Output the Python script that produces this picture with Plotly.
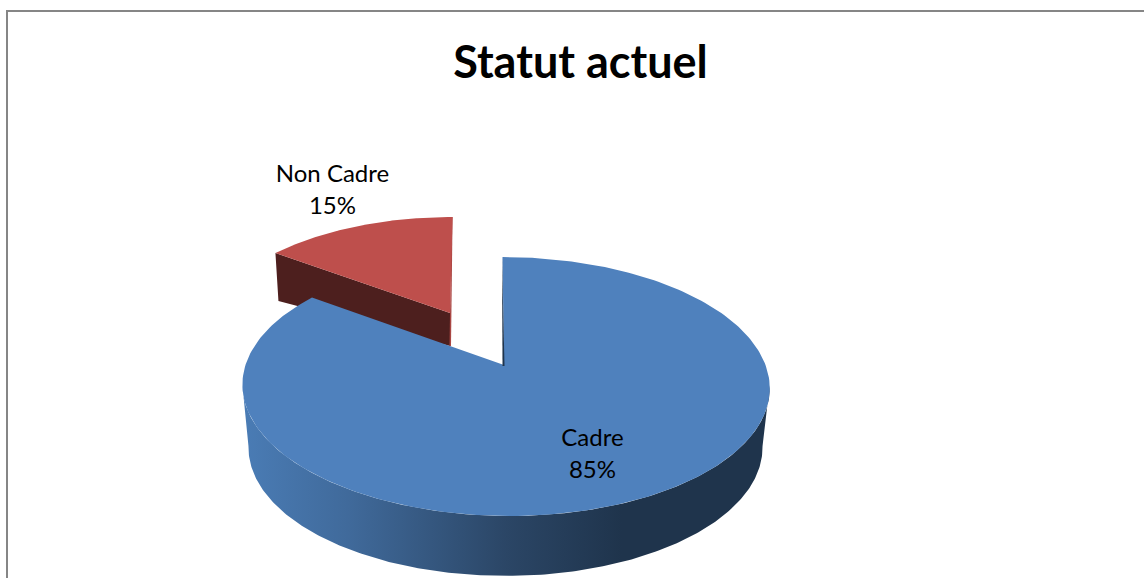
import math
import plotly.graph_objects as go

categories = ["Cadre", "Non Cadre"]
values = [85, 15]
title_text = "Statut actuel"

total = sum(values)
blue_sweep = 2 * math.pi * values[0] / total
N = 240


def project(theta, apex, a, b, k=0.166, s=0.0, cx=None):
    """Clockwise pie angle from 12 o'clock -> perspective-projected chart position."""
    u, v = math.sin(theta), math.cos(theta)
    w = 1 + k * v
    x0 = apex[0] if cx is None else cx
    return x0 + (b * u + s * v) / w, apex[1] - a * v / w


def arc(t0, t1, **kw):
    pts = [project(t0 + (t1 - t0) * i / N, **kw) for i in range(N + 1)]
    return [p[0] for p in pts], [p[1] for p in pts]


BLUE = dict(apex=(504, 365), a=125.9, b=260, s=-3.5, cx=505.5)
BLUE_LOW = dict(apex=(505.5, 426), a=125, b=253.5, s=0)
RED = dict(apex=(450, 313), a=112, b=239, s=3)
RED_DEPTH_APEX = 33
RED_DEPTH_OUTER = 48

fig = go.Figure()


def poly(xs, ys, color=None, **extra):
    args = dict(x=xs, y=ys, mode="lines", fill="toself", line=dict(width=0),
                hoverinfo="skip", showlegend=False)
    if color:
        args["fillcolor"] = color
    args.update(extra)
    fig.add_trace(go.Scatter(**args))


# Red slice
rx, ry = arc(blue_sweep, 2 * math.pi, **RED)
ax, ay = RED["apex"]
poly([rx[0], rx[0] + 3, ax, ax], [ry[0], ry[0] + RED_DEPTH_OUTER, ay + RED_DEPTH_APEX, ay], "#4D1F1E")
poly([rx[-1] - 1, rx[-1], ax + 1, ax - 0.5], [ry[-1], ry[-1], ay + RED_DEPTH_APEX, ay + RED_DEPTH_APEX], "#A94643")
poly(rx + [ax], ry + [ay], "#BE4F4C")

# Blue slice: outer wall, front runs clockwise from the right extreme to the left extreme
t_r, t_l = math.radians(99), math.radians(261)
lx, ly = arc(t_r, t_l, **BLUE_LOW)
tx, ty = arc(t_l, t_r, **BLUE)
poly(lx + tx, ly + ty, None, fillgradient=dict(
    type="horizontal",
    colorscale=[[0, "#4A7CB5"], [0.2, "#406A9B"], [0.5, "#2B4666"], [0.72, "#1F344C"], [1, "#1F344C"]],
))

# Blue slice: top face and inner sliver
bx, by = arc(0, blue_sweep, **BLUE)
bax, bay = BLUE["apex"]
poly(bx + [bax], by + [bay], "#4F81BD")
poly([bx[0] - 0.5, bax + 0.5, bax - 1.5], [by[0], bay + 1, bay + 1], "#1F344C")

# Data labels
fig.add_trace(go.Scatter(
    x=[592.5, 332.5], y=[456, 192], mode="text",
    text=[f"{c}<br>{round(100 * v / total)}%" for c, v in zip(categories, values)],
    textposition="middle center",
    textfont=dict(family="Lato", size=24, color="#000000"),
    hoverinfo="skip", showlegend=False,
))

fig.update_layout(
    width=1144, height=578, margin=dict(l=0, r=0, t=0, b=0),
    paper_bgcolor="#FFFFFF", plot_bgcolor="#FFFFFF", showlegend=False,
    title=dict(text=f"<b>{title_text}</b>", x=580.5 / 1144, y=1 - 62 / 578,
               xanchor="center", yanchor="middle",
               font=dict(family="Lato", size=45, color="#000000")),
    xaxis=dict(range=[0, 1144], visible=False, fixedrange=True),
    yaxis=dict(range=[578, 0], visible=False, fixedrange=True),
    shapes=[dict(type="path", path="M 7 578 L 7 11 L 1144 11", xref="x", yref="y",
                 line=dict(color="#868686", width=2))],
)

fig.write_html("out.html", config=dict(displayModeBar=False),
               post_script="document.body.style.margin='0';")
